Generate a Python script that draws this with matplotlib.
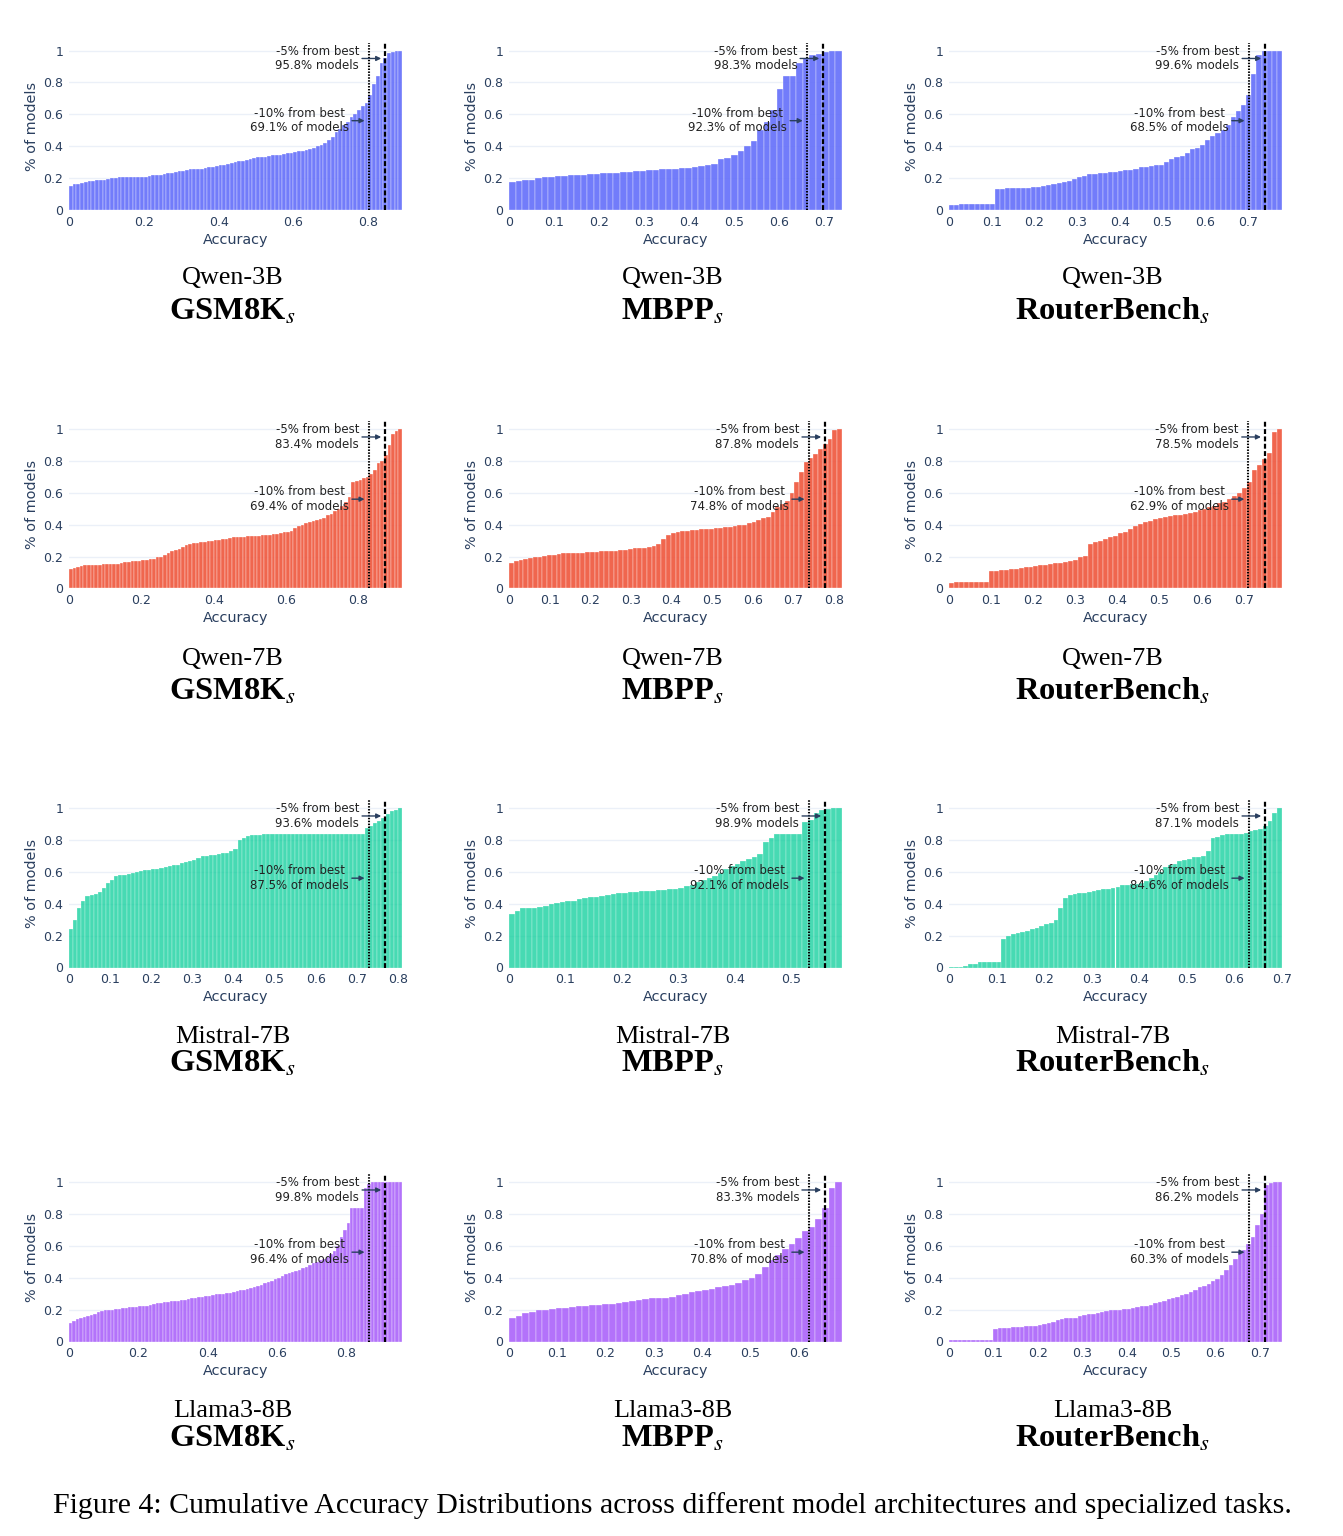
import numpy as np
import matplotlib
matplotlib.use('Agg')
import matplotlib.pyplot as plt

W, H = 1343, 1536
plt.rcParams['font.family'] = ['DejaVu Sans']
plt.rcParams['mathtext.fontset'] = 'stix'

models = ['Qwen-3B', 'Qwen-7B', 'Mistral-7B', 'Llama3-8B']
tasks = ['GSM8K', 'MBPP', 'RouterBench']
colors = ['#636EFA', '#EF553B', '#00CC96', '#AB63FA']
alphas = [0.9, 0.9, 0.72, 0.9]

# cumulative share of models per accuracy bin (one value per bar)
qwen3b_gsm8k = [0.15, 0.16, 0.165, 0.17, 0.175, 0.18, 0.18, 0.19, 0.19, 0.19,
                0.195, 0.20, 0.20, 0.205, 0.205, 0.205, 0.21, 0.21, 0.21, 0.21,
                0.21, 0.215, 0.22, 0.22, 0.22, 0.225, 0.23, 0.235, 0.24, 0.245,
                0.245, 0.25, 0.255, 0.255, 0.26, 0.26, 0.265, 0.27, 0.27, 0.275,
                0.28, 0.285, 0.29, 0.295, 0.30, 0.305, 0.31, 0.315, 0.32, 0.325,
                0.33, 0.335, 0.335, 0.34, 0.345, 0.345, 0.345, 0.35, 0.355, 0.36,
                0.365, 0.37, 0.37, 0.375, 0.38, 0.39, 0.40, 0.41, 0.42, 0.44,
                0.46, 0.49, 0.51, 0.53, 0.55, 0.58, 0.60, 0.63, 0.65, 0.67,
                0.72, 0.79, 0.84, 0.92, 0.955, 0.985, 0.99, 0.995, 1.0]
qwen3b_mbpp = [0.175, 0.18, 0.185, 0.19, 0.20, 0.205, 0.21, 0.215, 0.215, 0.22,
               0.22, 0.222, 0.225, 0.227, 0.23, 0.232, 0.235, 0.237, 0.24, 0.245,
               0.247, 0.25, 0.252, 0.255, 0.258, 0.26, 0.262, 0.265, 0.27, 0.275,
               0.285, 0.29, 0.32, 0.325, 0.345, 0.37, 0.40, 0.43, 0.50, 0.55,
               0.63, 0.76, 0.84, 0.84, 0.92, 0.95, 0.97, 0.975, 0.99, 0.995,
               1.0]
qwen3b_rb = [0.03, 0.03, 0.04, 0.04, 0.04, 0.04, 0.04, 0.04, 0.04, 0.13,
             0.13, 0.135, 0.135, 0.137, 0.14, 0.14, 0.142, 0.145, 0.15, 0.155,
             0.165, 0.17, 0.175, 0.18, 0.195, 0.205, 0.215, 0.225, 0.228, 0.23,
             0.233, 0.236, 0.24, 0.245, 0.248, 0.25, 0.26, 0.27, 0.272, 0.275,
             0.28, 0.285, 0.30, 0.32, 0.335, 0.34, 0.355, 0.38, 0.39, 0.405,
             0.44, 0.465, 0.48, 0.50, 0.53, 0.585, 0.62, 0.66, 0.72, 0.85,
             0.97, 0.995, 0.995, 0.997, 1.0]
qwen7b_gsm8k = [0.12, 0.13, 0.135, 0.14, 0.145, 0.15, 0.15, 0.15, 0.15, 0.152,
                0.152, 0.153, 0.155, 0.155, 0.16, 0.165, 0.167, 0.17, 0.172, 0.175,
                0.178, 0.18, 0.185, 0.188, 0.195, 0.20, 0.21, 0.22, 0.235, 0.24,
                0.25, 0.26, 0.27, 0.28, 0.283, 0.285, 0.29, 0.293, 0.295, 0.30,
                0.302, 0.305, 0.31, 0.313, 0.316, 0.32, 0.322, 0.325, 0.326, 0.328,
                0.33, 0.33, 0.331, 0.333, 0.335, 0.337, 0.34, 0.343, 0.347, 0.352,
                0.355, 0.36, 0.38, 0.39, 0.40, 0.41, 0.42, 0.425, 0.43, 0.435,
                0.44, 0.46, 0.47, 0.485, 0.50, 0.52, 0.545, 0.575, 0.665, 0.675,
                0.68, 0.69, 0.70, 0.715, 0.745, 0.785, 0.80, 0.84, 0.90, 0.97,
                0.99, 1.0]
qwen7b_mbpp = [0.16, 0.17, 0.178, 0.183, 0.19, 0.195, 0.20, 0.203, 0.21, 0.213,
               0.215, 0.22, 0.222, 0.222, 0.223, 0.225, 0.228, 0.23, 0.23, 0.232,
               0.234, 0.235, 0.237, 0.24, 0.242, 0.25, 0.252, 0.253, 0.255, 0.26,
               0.265, 0.28, 0.31, 0.335, 0.345, 0.352, 0.36, 0.362, 0.365, 0.367,
               0.37, 0.372, 0.375, 0.378, 0.38, 0.383, 0.385, 0.39, 0.395, 0.40,
               0.41, 0.42, 0.43, 0.44, 0.45, 0.48, 0.51, 0.53, 0.55, 0.60,
               0.67, 0.73, 0.79, 0.82, 0.845, 0.875, 0.905, 0.94, 0.995, 1.0]
qwen7b_rb = [0.035, 0.04, 0.04, 0.04, 0.04, 0.04, 0.04, 0.04, 0.11, 0.112,
             0.113, 0.115, 0.12, 0.125, 0.128, 0.132, 0.135, 0.14, 0.145, 0.148,
             0.155, 0.158, 0.162, 0.167, 0.172, 0.18, 0.195, 0.205, 0.28, 0.29,
             0.30, 0.31, 0.32, 0.33, 0.345, 0.355, 0.37, 0.39, 0.405, 0.415,
             0.425, 0.435, 0.44, 0.45, 0.455, 0.46, 0.462, 0.47, 0.475, 0.48,
             0.49, 0.50, 0.51, 0.52, 0.535, 0.545, 0.56, 0.58, 0.60, 0.63,
             0.67, 0.74, 0.775, 0.81, 0.85, 0.98, 1.0]
mistral_gsm8k = [0.24, 0.30, 0.37, 0.42, 0.45, 0.455, 0.46, 0.475, 0.50, 0.53,
                 0.55, 0.575, 0.578, 0.58, 0.585, 0.59, 0.60, 0.605, 0.61, 0.612,
                 0.615, 0.62, 0.625, 0.63, 0.635, 0.64, 0.645, 0.655, 0.66, 0.67,
                 0.675, 0.685, 0.70, 0.70, 0.705, 0.705, 0.71, 0.715, 0.72, 0.73,
                 0.74, 0.80, 0.815, 0.825, 0.83, 0.832, 0.833, 0.834, 0.834, 0.834,
                 0.835, 0.835, 0.835, 0.835, 0.835, 0.835, 0.835, 0.835, 0.836, 0.836,
                 0.836, 0.836, 0.836, 0.836, 0.837, 0.838, 0.84, 0.84, 0.84, 0.84,
                 0.84, 0.84, 0.875, 0.885, 0.905, 0.92, 0.94, 0.96, 0.98, 0.99, 1.0]
mistral_mbpp = [0.335, 0.355, 0.37, 0.372, 0.375, 0.38, 0.385, 0.395, 0.405, 0.41,
                0.415, 0.42, 0.43, 0.435, 0.44, 0.445, 0.45, 0.455, 0.46, 0.465,
                0.47, 0.472, 0.475, 0.477, 0.478, 0.48, 0.485, 0.487, 0.49, 0.495,
                0.50, 0.51, 0.52, 0.535, 0.55, 0.56, 0.575, 0.595, 0.615, 0.635,
                0.65, 0.665, 0.68, 0.695, 0.71, 0.785, 0.815, 0.84, 0.84, 0.84,
                0.84, 0.84, 0.91, 0.925, 0.97, 0.985, 0.995, 0.997, 1.0]
mistral_rb = [0.005, 0.005, 0.005, 0.008, 0.02, 0.025, 0.033, 0.035, 0.035, 0.035,
              0.037, 0.18, 0.195, 0.21, 0.215, 0.225, 0.23, 0.24, 0.25, 0.26,
              0.27, 0.28, 0.30, 0.375, 0.435, 0.455, 0.46, 0.465, 0.47, 0.475,
              0.48, 0.485, 0.49, 0.495, 0.50, 0.505, 0.515, 0.52, 0.522, 0.525,
              0.53, 0.545, 0.56, 0.58, 0.60, 0.63, 0.64, 0.65, 0.665, 0.675,
              0.68, 0.69, 0.695, 0.70, 0.73, 0.81, 0.82, 0.83, 0.835, 0.835,
              0.838, 0.84, 0.845, 0.855, 0.86, 0.868, 0.89, 0.92, 0.97, 1.0]
llama_gsm8k = [0.115, 0.13, 0.14, 0.15, 0.155, 0.16, 0.165, 0.175, 0.185, 0.19,
               0.195, 0.197, 0.20, 0.203, 0.205, 0.21, 0.212, 0.215, 0.217, 0.218,
               0.22, 0.222, 0.225, 0.23, 0.235, 0.24, 0.243, 0.247, 0.25, 0.252,
               0.255, 0.257, 0.26, 0.262, 0.265, 0.27, 0.273, 0.277, 0.28, 0.283,
               0.285, 0.29, 0.295, 0.297, 0.30, 0.302, 0.305, 0.31, 0.315, 0.32,
               0.325, 0.33, 0.335, 0.34, 0.35, 0.355, 0.365, 0.375, 0.38, 0.39,
               0.395, 0.41, 0.425, 0.43, 0.435, 0.44, 0.45, 0.46, 0.47, 0.48,
               0.49, 0.50, 0.51, 0.52, 0.53, 0.55, 0.57, 0.60, 0.655, 0.70,
               0.745, 0.84, 0.84, 0.84, 0.84, 0.96, 0.99, 0.998, 1.0, 1.0,
               1.0, 1.0, 1.0, 1.0, 1.0, 1.0]
llama_mbpp = [0.145, 0.16, 0.178, 0.185, 0.195, 0.20, 0.205, 0.207, 0.21, 0.215,
              0.222, 0.225, 0.227, 0.23, 0.233, 0.237, 0.24, 0.25, 0.257, 0.262,
              0.267, 0.27, 0.272, 0.275, 0.28, 0.29, 0.30, 0.31, 0.318, 0.325,
              0.33, 0.34, 0.35, 0.355, 0.365, 0.385, 0.40, 0.425, 0.47, 0.51,
              0.545, 0.58, 0.61, 0.65, 0.69, 0.72, 0.77, 0.84, 0.96, 1.0]
llama_rb = [0.008, 0.008, 0.008, 0.009, 0.009, 0.01, 0.01, 0.01, 0.01, 0.01,
            0.08, 0.082, 0.085, 0.087, 0.09, 0.09, 0.092, 0.095, 0.097, 0.10,
            0.105, 0.11, 0.115, 0.125, 0.135, 0.14, 0.145, 0.148, 0.15, 0.16,
            0.167, 0.17, 0.175, 0.18, 0.185, 0.19, 0.195, 0.197, 0.20, 0.202,
            0.205, 0.21, 0.215, 0.22, 0.225, 0.23, 0.24, 0.25, 0.255, 0.265,
            0.27, 0.28, 0.29, 0.30, 0.31, 0.325, 0.34, 0.35, 0.36, 0.38,
            0.39, 0.42, 0.45, 0.48, 0.52, 0.56, 0.575, 0.61, 0.655, 0.73,
            0.80, 0.98, 0.995, 1.0, 1.0]

cum_share = [[qwen3b_gsm8k, qwen3b_mbpp, qwen3b_rb],
             [qwen7b_gsm8k, qwen7b_mbpp, qwen7b_rb],
             [mistral_gsm8k, mistral_mbpp, mistral_rb],
             [llama_gsm8k, llama_mbpp, llama_rb]]
bin_width = [[0.01, 0.0145, 0.012],
             [0.01, 0.82 / 70, 0.0118],
             [0.01, 0.01, 0.01],
             [0.01, 0.0138, 0.01]]
best_acc = [[0.89, 0.735, 0.78],
            [0.92, 0.82, 0.79],
            [0.81, 0.59, 0.70],
            [0.96, 0.69, 0.75]]
pct_5 = [['95.8', '98.3', '99.6'],
         ['83.4', '87.8', '78.5'],
         ['93.6', '98.9', '87.1'],
         ['99.8', '83.3', '86.2']]
pct_10 = [['69.1', '92.3', '68.5'],
          ['69.4', '74.8', '62.9'],
          ['87.5', '92.1', '84.6'],
          ['96.4', '70.8', '60.3']]
tick_step = [[0.2, 0.1, 0.1],
             [0.2, 0.1, 0.1],
             [0.1, 0.1, 0.1],
             [0.2, 0.1, 0.1]]

# layout in pixels
ax_left = [69, 509, 949]
ax_w = 333
ax_y0 = [210, 588.5, 967.5, 1341.5]   # pixel row of y=0
unit_h = 159.5
model_base = [284, 665, 1043, 1417]
task_base = [320, 700, 1072, 1447]
txt_col = '#2a3f5f'

fig = plt.figure(figsize=(W / 100, H / 100), dpi=100)


def fx(x):
    return x / W


def fy(y):
    return 1 - y / H


for r in range(4):
    for c in range(3):
        vals = cum_share[r][c]
        w = bin_width[r][c]
        n = len(vals)
        xmax = n * w
        ax_h = 1.05 * unit_h
        ax = fig.add_axes([fx(ax_left[c]), fy(ax_y0[r]), ax_w / W, ax_h / H])
        ax.set_axisbelow(True)
        ax.yaxis.grid(True, color='#EBF0F8', lw=1)
        ax.bar(np.arange(n) * w, vals, width=w, align='edge',
               color=colors[r], alpha=alphas[r], edgecolor='white', linewidth=0.25)
        ax.set_xlim(0, xmax)
        ax.set_ylim(0, 1.05)
        for s in ax.spines.values():
            s.set_visible(False)

        step = tick_step[r][c]
        nt = int(xmax / step + 1e-6)
        xt = [round(k * step, 2) for k in range(nt + 1)]
        ax.set_xticks(xt)
        ax.set_xticklabels([f'{t:g}' for t in xt])
        yt = [0, 0.2, 0.4, 0.6, 0.8, 1.0]
        ax.set_yticks(yt)
        ax.set_yticklabels([f'{t:g}' for t in yt])
        ax.tick_params(length=0, labelsize=9, labelcolor=txt_col, pad=4)

        b = best_acc[r][c]
        ax.axvline(0.9 * b, color='black', lw=1.5, ls=(0, (0.7, 0.7)))
        ax.axvline(0.95 * b, color='black', lw=1.6, ls=(0, (2.2, 1.1)))

        arrow = dict(arrowstyle='-|>', color=txt_col, lw=1,
                     mutation_scale=7, shrinkA=0, shrinkB=3)
        ax.annotate(f'-5% from best\n{pct_5[r][c]}% models',
                    xy=(0.95 * b, 0.95), xytext=(-68, 0),
                    textcoords='offset pixels', ha='center', va='center',
                    fontsize=8.5, color='#222222', linespacing=1.15,
                    arrowprops=arrow)
        ax.annotate(f'-10% from best\n{pct_10[r][c]}% of models',
                    xy=(0.9 * b, 0.56), xytext=(-69, 0),
                    textcoords='offset pixels', ha='center', va='center',
                    fontsize=8.5, color='#222222', linespacing=1.15,
                    arrowprops=arrow)

        cx = ax_left[c] + ax_w / 2
        fig.text(fx(cx), fy(ax_y0[r] + 30), 'Accuracy', ha='center',
                 va='center', fontsize=10.4, color=txt_col)
        fig.text(fx(ax_left[c] - 37), fy(ax_y0[r] - ax_h / 2), '% of models',
                 ha='center', va='center', rotation=90, fontsize=10.4,
                 color=txt_col)
        fig.text(fx(cx - 3), fy(model_base[r]), models[r], ha='center',
                 va='baseline', fontsize=18.8, family='Liberation Serif')
        fig.text(fx(cx - 3), fy(task_base[r]), tasks[c] + '$_s$', ha='center',
                 va='baseline', fontsize=23.4, family='Liberation Serif',
                 fontweight='bold')

fig.text(fx(672), fy(1513), 'Figure 4: Cumulative Accuracy Distributions across '
         'different model architectures and specialized tasks.',
         ha='center', va='baseline', fontsize=21.5, family='Liberation Serif')

fig.savefig('out.png', dpi=100)
